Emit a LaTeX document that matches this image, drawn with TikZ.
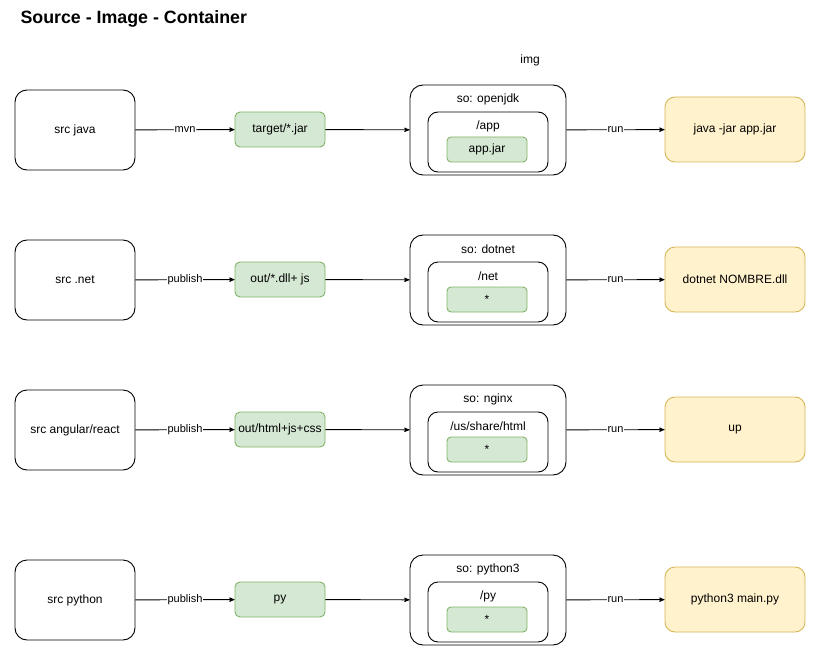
\documentclass[tikz,border=0pt]{standalone}
\usepackage{fontspec}
\setmainfont{Liberation Sans}
\usepackage{tikz}
\usetikzlibrary{arrows,positioning}
\definecolor{greenfill}{HTML}{D5E8D4}
\definecolor{greenline}{HTML}{82B366}
\definecolor{yellowfill}{HTML}{FFF2CC}
\definecolor{yellowline}{HTML}{D6B656}
\tikzset{
 >=stealth',
 srcbox/.style={draw,line width=0.9pt,rounded corners=12pt,minimum width=120pt,minimum height=80pt},
 binbox/.style={draw=greenline,fill=greenfill,line width=0.9pt,rounded corners=5pt,minimum width=90pt,minimum height=35pt},
 sobox/.style={draw,line width=0.9pt,rounded corners=13pt,minimum width=156pt,minimum height=90pt},
 dirbox/.style={draw,line width=0.9pt,rounded corners=10pt,minimum width=120pt,minimum height=60pt},
 filebox/.style={draw=greenline,fill=greenfill,line width=0.9pt,rounded corners=4pt,minimum width=80pt,minimum height=25pt},
 runbox/.style={draw=yellowline,fill=yellowfill,line width=0.9pt,rounded corners=10pt,minimum width=140pt,minimum height=65pt},
 step label/.style={fill=white,inner sep=0.5pt,font=\fontsize{11pt}{13pt}\selectfont}
}

\begin{document}
\begin{tikzpicture}[x=1pt,y=-1pt,font=\fontsize{12pt}{14pt}\selectfont]
\useasboundingbox (0,0) rectangle (829,655);
\path (17,19) node[anchor=west,font=\fontsize{17.8pt}{20pt}\selectfont\bfseries,name=title] {Source - Image - Container};
\path (530,60) node[name=img] {img};

% java
\path (75,130) node[srcbox,name=src1] {src java};
\path (280,129.5) node[binbox,name=bin1] {target/*.jar};
\path (488,130) node[sobox,name=so1] {};
\path (488,99) node[name=os1] {so: openjdk};
\path (488,142) node[dirbox,name=dir1] {};
\path (488,126) node[name=path1] {/app};
\path (487,149.5) node[filebox,name=file1] {app.jar};
\path (735,129.5) node[runbox,name=run1] {java -jar app.jar};

% dotnet
\path (75,280) node[srcbox,name=src2] {src .net};
\path (280,279.5) node[binbox,name=bin2] {out/*.dll+ js};
\path (488,280) node[sobox,name=so2] {};
\path (488,249) node[name=os2] {so: dotnet};
\path (488,292) node[dirbox,name=dir2] {};
\path (488,276) node[name=path2] {/net};
\path (487,299.5) node[filebox,name=file2] {*};
\path (735,279.5) node[runbox,name=run2] {dotnet NOMBRE.dll};

% angular/react
\path (75,430) node[srcbox,name=src3] {src angular/react};
\path (280,429.5) node[binbox,name=bin3] {out/html+js+css};
\path (488,430) node[sobox,name=so3] {};
\path (488,399) node[name=os3] {so: nginx};
\path (488,442) node[dirbox,name=dir3] {};
\path (488,426) node[name=path3] {/us/share/html};
\path (487,449.5) node[filebox,name=file3] {*};
\path (735,429.5) node[runbox,name=run3] {up};

% python
\path (75,600) node[srcbox,name=src4] {src python};
\path (280,599.5) node[binbox,name=bin4] {py};
\path (488,600) node[sobox,name=so4] {};
\path (488,569) node[name=os4] {so: python3};
\path (488,612) node[dirbox,name=dir4] {};
\path (488,596) node[name=path4] {/py};
\path (487,619.5) node[filebox,name=file4] {*};
\path (735,599.5) node[runbox,name=run4] {python3 main.py};

\path[->,line width=0.9pt] (src1) edge node[step label]{mvn} (bin1);
\path[->,line width=0.9pt] (src2) edge node[step label]{publish} (bin2);
\path[->,line width=0.9pt] (src3) edge node[step label]{publish} (bin3);
\path[->,line width=0.9pt] (src4) edge node[step label]{publish} (bin4);

\path[->,line width=0.9pt] (bin1) edge (so1);
\path[->,line width=0.9pt] (bin2) edge (so2);
\path[->,line width=0.9pt] (bin3) edge (so3);
\path[->,line width=0.9pt] (bin4) edge (so4);

\path[->,line width=0.9pt] (so1) edge node[step label]{run} (run1);
\path[->,line width=0.9pt] (so2) edge node[step label]{run} (run2);
\path[->,line width=0.9pt] (so3) edge node[step label]{run} (run3);
\path[->,line width=0.9pt] (so4) edge node[step label]{run} (run4);

\end{tikzpicture}
\end{document}
